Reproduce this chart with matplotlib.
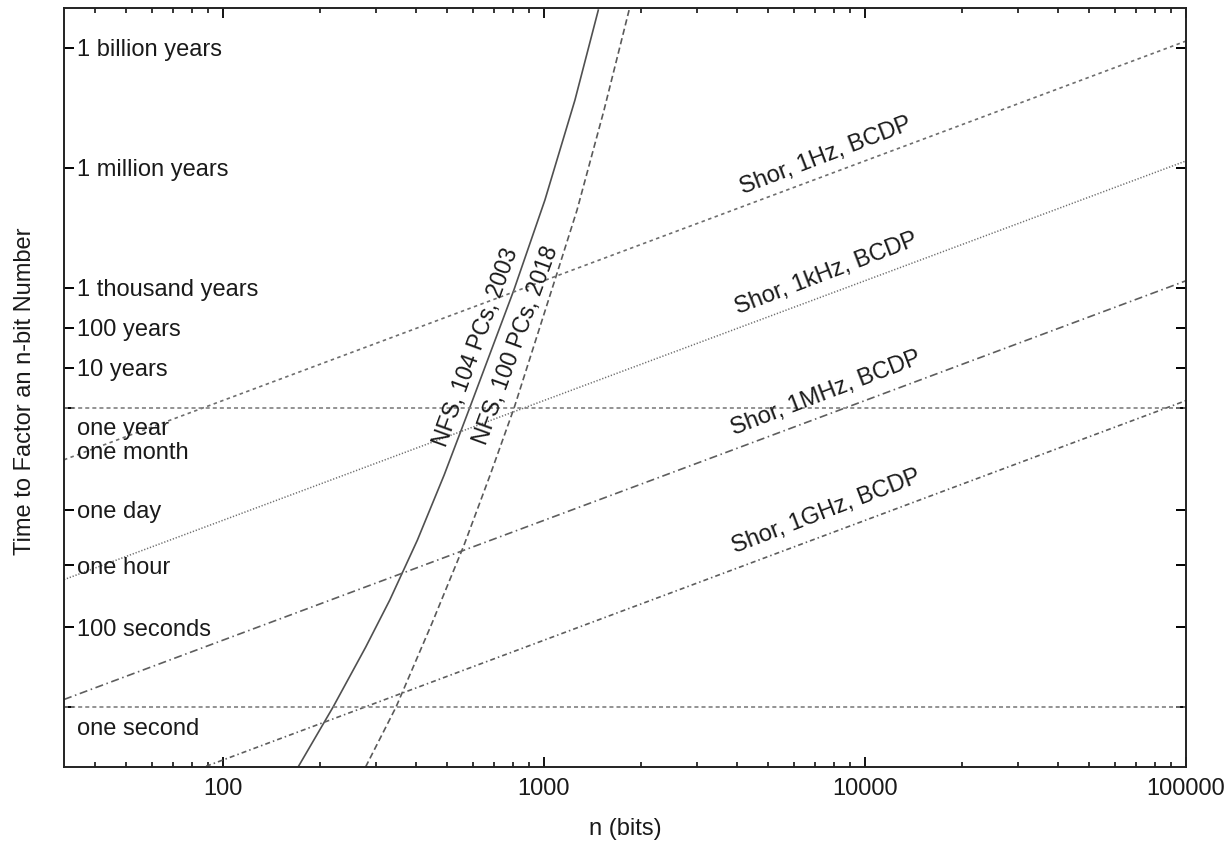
import numpy as np
from matplotlib import pyplot as plt
from matplotlib.ticker import LogLocator, NullFormatter, NullLocator

plt.rcParams['font.family'] = ['Liberation Sans', 'DejaVu Sans']
plt.rcParams['lines.scale_dashes'] = False

#données (n en bits, temps en secondes)
n_shor = [32, 100000]
shor_1hz = [1.55e6, 4.7e16]
shor_1khz = [1.55e3, 4.7e13]
shor_1mhz = [1.55, 4.7e10]
shor_1ghz = [1.55e-3, 4.7e7]

nfs_2003_n = [171.5, 220.4, 278.6, 331, 403.5, 488.8, 586.8, 806, 1007, 1249, 1477]
nfs_2003_t = [0.0315, 1.0, 31.8, 477, 1.51e4, 6.41e5, 3.05e7, 2.74e10, 4.91e12, 1.56e15, 2.8e17]

nfs_2018_n = [278.2, 346.2, 448.3, 563.9, 679.8, 807.2, 1099, 1268, 1539, 1842]
nfs_2018_t = [0.0315, 1.0, 126.7, 1.135e4, 6.41e5, 3.05e7, 7.31e10, 2.76e12, 8.79e14, 2.8e17]

year = 3.156e7
ytick_vals = [1e9 * year, 1e6 * year, 1e3 * year, 100 * year, 10 * year, year, 86400, 3600, 100, 1]
ylabel_names = ['1 billion years', '1 million years', '1 thousand years', '100 years', '10 years',
                'one year', 'one month', 'one day', 'one hour', '100 seconds', 'one second']
ylabel_vals = [1e9 * year, 1e6 * year, 1e3 * year, 100 * year, 10 * year,
               year, year / 12, 86400, 3600, 100, 1]

xtick_vals = [100, 1000, 10000, 100000]
xtick_names = ['100', '1000', '10000', '100000']

fig = plt.figure(figsize=(12.32, 8.41), dpi=100)
ax = fig.add_axes([64 / 1232, 1 - 767 / 841, 1122 / 1232, 759 / 841])
ax.set_xscale('log')
ax.set_yscale('log')

#courbes
ax.plot(nfs_2003_n, nfs_2003_t, color='#505050', lw=1.2, ls='-')
ax.plot(nfs_2018_n, nfs_2018_t, color='#5a5a5a', lw=1.2, ls=(0, (4.5, 2.5)))
ax.plot(n_shor, shor_1hz, color='#6e6e6e', lw=1.2, ls=(0, (2.5, 2.5)))
ax.plot(n_shor, shor_1khz, color='#6e6e6e', lw=1.1, ls=(0, (0.9, 1.3)))
ax.plot(n_shor, shor_1mhz, color='#5e5e5e', lw=1.2, ls=(0, (5.8, 2.6, 1.1, 2.6)))
ax.plot(n_shor, shor_1ghz, color='#5e5e5e', lw=1.2, ls=(0, (3.6, 2.2, 1.1, 2.2)))
ax.axhline(year, color='#808080', lw=1.2, ls=(0, (2.9, 2.2)))
ax.axhline(1, color='#808080', lw=1.2, ls=(0, (2.9, 2.2)))

ax.set_xlim(32, 100000)
ax.set_ylim(10 ** -1.5, 10 ** 17.5)

#étiquettes des courbes
lab = dict(color='#1a1a1a', ha='center', va='center', rotation_mode='anchor')
ax.text(7570, 10 ** 13.8, 'Shor, 1Hz, BCDP', rotation=21, fontsize=17, **lab)
ax.text(7570, 10 ** 10.85, 'Shor, 1kHz, BCDP', rotation=21, fontsize=17, **lab)
ax.text(7570, 10 ** 7.85, 'Shor, 1MHz, BCDP', rotation=21, fontsize=17, **lab)
ax.text(7570, 10 ** 4.9, 'Shor, 1GHz, BCDP', rotation=21, fontsize=17, **lab)
ax.text(615, 10 ** 9.0, 'NFS, 104 PCs, 2003', rotation=70, fontsize=16.5, **lab)
ax.text(821, 10 ** 9.05, 'NFS, 100 PCs, 2018', rotation=70, fontsize=16.5, **lab)

#axe y : étiquettes à l'intérieur du cadre
ax.set_yticks(ytick_vals)
ax.set_yticklabels([])
ax.yaxis.set_minor_locator(NullLocator())
ytr = ax.get_yaxis_transform()
for name, val in zip(ylabel_names, ylabel_vals):
    dy = -14 if name in ('one year', 'one second') else 0
    ax.annotate(name, (0.0116, val), xycoords=ytr, xytext=(0, dy), textcoords='offset points',
                fontsize=17, color='#1a1a1a', ha='left', va='center_baseline')

ax.set_xticks(xtick_vals, xtick_names)
ax.xaxis.set_minor_locator(LogLocator(base=10, subs=np.arange(2, 10)))
ax.xaxis.set_minor_formatter(NullFormatter())

ax.tick_params(axis='y', which='major', direction='in', length=7.5, width=1.4,
               left=True, right=True, labelleft=False)
ax.tick_params(axis='x', which='major', direction='in', length=7.5, width=1.3,
               top=True, bottom=True, labelsize=17, pad=8, labelcolor='#1a1a1a')
ax.tick_params(axis='x', which='minor', direction='in', length=3.8, width=1.1,
               top=True, bottom=True)
for s in ax.spines.values():
    s.set_linewidth(1.4)
    s.set_color('#222222')

ax.set_xlabel('n (bits)', fontsize=17, color='#1a1a1a', labelpad=13)
fig.text(25 / 1232, 1 - 391 / 841, 'Time to Factor an n-bit Number', rotation=90,
         ha='center', va='center', fontsize=17, color='#1a1a1a')

fig.savefig('out.png', dpi=100)
